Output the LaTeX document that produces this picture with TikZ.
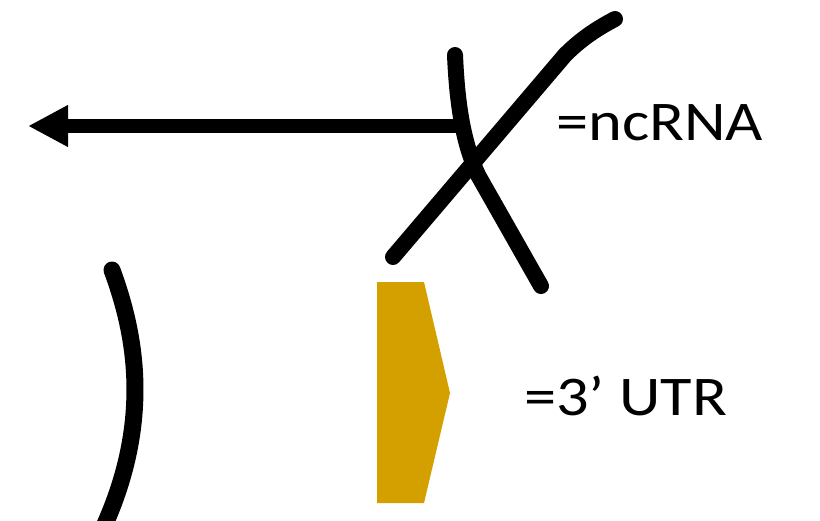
\documentclass[tikz,border=0pt]{standalone}
\usepackage{fontspec}
\usepackage{graphicx}
\setmainfont{Carlito}
\usetikzlibrary{arrows.meta}
\definecolor{utrgold}{RGB}{212,160,0}
\tikzset{
  thick stroke/.style={line width=16pt, line cap=round, black},
  label text/.style={font=\fontsize{56}{60}\selectfont, inner sep=0pt, anchor=base west},
}
\newcommand{\widetext}[1]{\scalebox{1.15}[1]{#1}}
\begin{document}
\begin{tikzpicture}[x=1pt,y=-1pt]
\useasboundingbox (0,0) rectangle (820,520);
% arrow
\coordinate (arrstart) at (460,126);
\coordinate (arrend) at (28,126);
\draw[line width=14pt, -{Triangle[length=40pt,width=39pt]}] (arrstart) -- (arrend);
% X mark
\coordinate (xa1) at (455,55);
\coordinate (xa2) at (541,286);
\draw[thick stroke] (xa1) .. controls (457,100) and (462,140) .. (478,175) -- (xa2);
\coordinate (xb1) at (393,257);
\coordinate (xb2) at (615,19);
\draw[thick stroke] (xb1) -- (565,55) .. controls (582,38) and (598,28) .. (xb2);
% bracket
\coordinate (br1) at (112,270);
\coordinate (br2) at (100,535);
\draw[thick stroke, line width=17pt] (br1) .. controls (134,330) and (155,420) .. (br2);
% UTR shape
\fill[utrgold] (377,282) -- (424,282) -- (450,393) -- (424,503) -- (377,503) -- cycle;
% labels
\node[label text] (nc) at (556,140) {\widetext{=ncRNA}};
\node[label text] (utr) at (524,415) {\widetext{=3’ UTR}};
\end{tikzpicture}
\end{document}
